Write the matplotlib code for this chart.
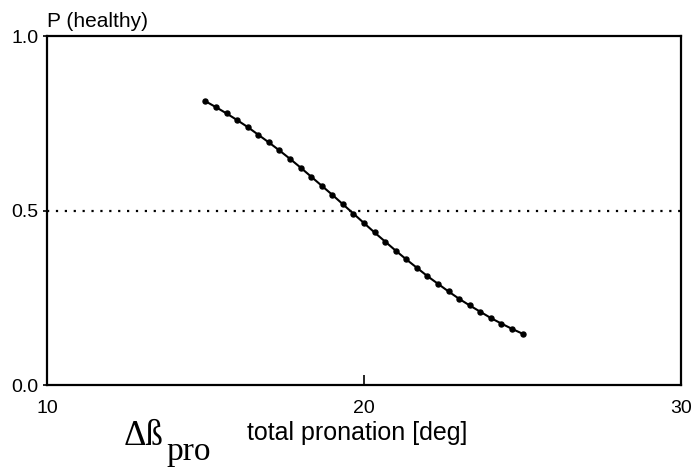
import matplotlib
matplotlib.use("Agg")
import matplotlib.pyplot as plt

plt.rcParams['font.family'] = ['Liberation Sans', 'DejaVu Sans']

# probability of "healthy" vs. total pronation, sampled every 1/3 deg
pronation = [15 + k / 3 for k in range(31)]
p_healthy = [0.813, 0.796, 0.778, 0.759, 0.739, 0.717, 0.695, 0.672,
             0.648, 0.623, 0.597, 0.571, 0.545, 0.518, 0.491, 0.464,
             0.437, 0.411, 0.385, 0.360, 0.336, 0.312, 0.290, 0.268,
             0.247, 0.228, 0.210, 0.192, 0.176, 0.161, 0.147]
threshold = 0.5

xticks = [10, 20, 30]
yticks = [0.0, 0.5, 1.0]
ytick_labels = ['0.0', '0.5', '1.0']

fig = plt.figure(figsize=(6.93, 4.69), dpi=100)
ax = fig.add_axes([0.0678, 0.1791, 0.9149, 0.7441])

ax.axhline(threshold, color='black', lw=1.6, linestyle=(0, (1, 3)))
ax.plot(pronation, p_healthy, color='black', lw=1.5, marker='o', ms=3.6)

ax.set_xlim(10, 30)
ax.set_ylim(0, 1)
ax.set_xticks(xticks)
ax.set_yticks(yticks)
ax.set_yticklabels(ytick_labels)
ax.tick_params(axis='x', direction='in', length=7, width=1.2, pad=11, labelsize=14)
ax.tick_params(axis='y', direction='out', length=3, width=1.2, pad=3, labelsize=14)
for s in ax.spines.values():
    s.set_linewidth(1.6)

fig.text(47 / 693, 0.9424, 'P (healthy)', fontsize=15)
fig.text(247 / 693, 0.0618, 'total pronation [deg]', fontsize=18)
fig.text(124 / 693, 0.0512, 'Δß', fontsize=25, family='Liberation Serif')
fig.text(166 / 693, 0.0192, 'pro', fontsize=24, family='Liberation Serif')

fig.savefig('out.png', dpi=100)
